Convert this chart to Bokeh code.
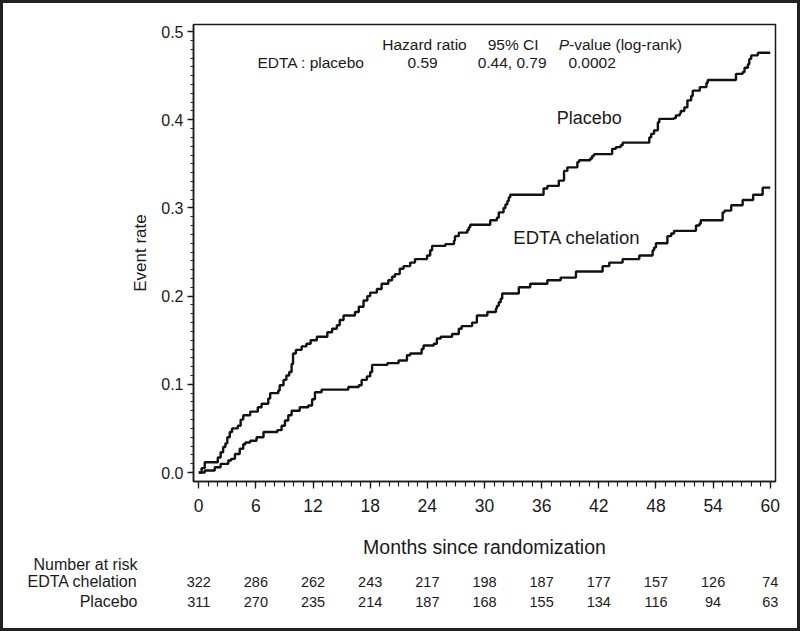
from bokeh.plotting import figure
from bokeh.layouts import column
from bokeh.models import Range1d, FixedTicker, Label, ColumnDataSource, NumeralTickFormatter
from bokeh.core.properties import value
from bokeh.embed import file_html
from bokeh.resources import INLINE

# ---- data ----
placebo_month = [0, 0.3, 0.63, 2.0, 2.3, 2.56, 2.8, 3.0, 3.26, 3.5, 4.1, 4.4, 4.67, 5.4, 6.2, 6.6, 7.3, 7.5,
                 8.35, 8.5, 8.9, 9.2, 9.5, 9.75, 9.9, 10.2, 10.8, 11.3, 11.75, 12.4, 13.5, 14.0, 14.5, 14.8,
                 15.2, 16.4, 16.8, 17.3, 17.7, 18.0, 18.7, 19.2, 19.9, 20.3, 20.6, 21.1, 21.5, 22.2, 22.7,
                 23.97, 24.3, 24.5, 25.9, 26.8, 26.9, 27.3, 28.2, 28.35, 28.5, 30.6, 31.3, 31.5, 32.0, 32.2,
                 32.4, 32.55, 32.7, 36.2, 36.6, 37.8, 38.35, 38.7, 39.75, 39.93, 41.1, 41.3, 41.5, 43.4, 43.8,
                 44.3, 44.5, 47.3, 47.5, 47.8, 48.2, 48.35, 49.9, 50.1, 50.5, 50.6, 50.98, 51.3, 51.7, 51.86,
                 52.6, 53.3, 53.44, 56.4, 57.1, 57.3, 57.65, 57.8, 58.0, 58.7, 60.0]
placebo_rate = [0.0, 0.005, 0.0117, 0.017, 0.023, 0.029, 0.033, 0.040, 0.046, 0.050, 0.053, 0.060, 0.065, 0.069,
                0.074, 0.078, 0.084, 0.090, 0.093, 0.099, 0.105, 0.110, 0.114, 0.123, 0.135, 0.139, 0.143,
                0.146, 0.150, 0.154, 0.159, 0.163, 0.167, 0.173, 0.178, 0.182, 0.188, 0.195, 0.200, 0.204,
                0.208, 0.214, 0.218, 0.222, 0.225, 0.231, 0.234, 0.238, 0.242, 0.246, 0.252, 0.257, 0.259,
                0.263, 0.268, 0.272, 0.275, 0.278, 0.281, 0.286, 0.289, 0.295, 0.300, 0.304, 0.308, 0.312,
                0.315, 0.322, 0.325, 0.331, 0.342, 0.346, 0.352, 0.354, 0.356, 0.359, 0.361, 0.367, 0.369,
                0.371, 0.374, 0.380, 0.384, 0.388, 0.397, 0.401, 0.402, 0.405, 0.407, 0.410, 0.414, 0.422,
                0.427, 0.433, 0.437, 0.442, 0.445, 0.452, 0.454, 0.459, 0.463, 0.469, 0.473, 0.476, 0.476]

edta_month = [0, 0.63, 1.68, 2.3, 3.1, 3.4, 3.8, 4.3, 4.67, 4.9, 5.4, 6.07, 6.8, 8.25, 8.7, 9.05, 9.4, 9.75,
              10.6, 11.5, 11.9, 12.2, 12.9, 15.7, 16.8, 17.1, 17.65, 18.0, 18.2, 19.8, 20.98, 21.86, 22.2,
              23.4, 23.6, 24.67, 25.0, 25.4, 26.6, 27.3, 27.6, 28.7, 29.2, 30.3, 31.2, 31.3, 31.5, 31.7,
              31.86, 33.6, 34.8, 36.6, 38.0, 39.6, 42.4, 43.1, 44.5, 46.25, 47.65, 47.8, 48.0, 49.2, 49.6,
              49.9, 52.2, 52.56, 52.7, 55.0, 55.2, 55.9, 57.1, 58.2, 59.2, 60.0]
edta_rate = [0.0, 0.0023, 0.006, 0.0098, 0.0136, 0.0155, 0.021, 0.027, 0.032, 0.034, 0.036, 0.040, 0.046, 0.048,
             0.053, 0.059, 0.065, 0.070, 0.074, 0.076, 0.083, 0.091, 0.094, 0.097, 0.099, 0.105, 0.109, 0.114,
             0.122, 0.124, 0.127, 0.133, 0.135, 0.140, 0.144, 0.146, 0.152, 0.154, 0.157, 0.163, 0.166,
             0.170, 0.178, 0.182, 0.186, 0.189, 0.193, 0.197, 0.203, 0.210, 0.214, 0.218, 0.221, 0.228,
             0.234, 0.238, 0.242, 0.246, 0.252, 0.255, 0.260, 0.268, 0.271, 0.274, 0.280, 0.282, 0.286,
             0.295, 0.297, 0.303, 0.309, 0.315, 0.323, 0.323]

x_ticks = [0, 6, 12, 18, 24, 30, 36, 42, 48, 54, 60]
y_ticks = [0.0, 0.1, 0.2, 0.3, 0.4, 0.5]
risk_months = [0, 6, 12, 18, 24, 30, 36, 42, 48, 54, 60]
risk_edta = [322, 286, 262, 243, 217, 198, 187, 177, 157, 126, 74]
risk_placebo = [311, 270, 235, 214, 187, 168, 155, 134, 116, 94, 63]
row_names = ["EDTA chelation", "Placebo"]

REG = "'Liberation Sans', Arial, Helvetica, sans-serif"
INK = "#1a1a1a"
W = 800
H_TOP = 525
H_BOT = 631 - H_TOP

# ---------------- main plot ----------------
p = figure(width=W, height=H_TOP, output_backend="svg", toolbar_location=None,
           x_range=Range1d(-0.55, 60.55), y_range=Range1d(-0.0102, 0.508),
           min_border_left=193, min_border_right=25, min_border_top=24, min_border_bottom=H_TOP - 481,
           background_fill_color="white", border_fill_color=None)
p.frame_align = False
p.styles = {"background-color": "white",
            "box-shadow": "inset 3px 0 0 0 #222, inset -3px 0 0 0 #222, inset 0 3px 0 0 #222"}
p.grid.visible = False
p.outline_line_color = INK
p.outline_line_width = 1.5

p.xaxis.ticker = FixedTicker(ticks=x_ticks, minor_ticks=list(range(0, 61)))
p.yaxis.ticker = FixedTicker(ticks=y_ticks, minor_ticks=[i / 100 for i in range(51)])
p.yaxis.formatter = NumeralTickFormatter(format="0.0")
for ax in (p.xaxis[0], p.yaxis[0]):
    ax.axis_line_color = INK
    ax.axis_line_width = 1.5
    ax.major_tick_line_color = INK
    ax.minor_tick_line_color = INK
    ax.major_tick_line_width = 1.3
    ax.minor_tick_line_width = 1.1
    ax.major_tick_in = 0
    ax.minor_tick_in = 0
    ax.major_label_text_color = INK
    ax.major_label_text_font = REG

p.xaxis.major_tick_out = 7
p.xaxis.minor_tick_out = 5
p.xaxis.major_label_text_font_size = "17.5px"
p.xaxis.major_label_standoff = 10

p.yaxis.major_tick_out = 6
p.yaxis.minor_tick_out = 3
p.yaxis.major_label_text_font_size = "16px"
p.yaxis.major_label_standoff = 4
p.yaxis.axis_label = "Event rate"
p.yaxis.axis_label_text_font = REG
p.yaxis.axis_label_text_font_size = "17px"
p.yaxis.axis_label_text_font_style = "normal"
p.yaxis.axis_label_text_color = INK
p.yaxis.axis_label_standoff = 8

p.step(placebo_month, placebo_rate, mode="after", line_width=2.4, line_color="#111111")
p.step(edta_month, edta_rate, mode="after", line_width=2.4, line_color="#111111")


def lab(fig, x, y, text, size="15.5px", align="center", style="normal"):
    fig.add_layout(Label(x=x, y=y, text=text, text_font=REG, text_font_size=size,
                         text_align=align, text_baseline="middle", text_color=INK,
                         text_font_style=style))


lab(p, 23.7, 0.4853, "Hazard ratio")
lab(p, 33.0, 0.4853, "95% CI")
lab(p, 38.87, 0.4853, "P", align="right", style="italic")
lab(p, 38.87, 0.4853, "-value (log-rank)", align="left")
lab(p, 11.8, 0.4649, "EDTA : placebo")
lab(p, 23.5, 0.4649, "0.59")
lab(p, 32.9, 0.4649, "0.44, 0.79")
lab(p, 41.3, 0.4649, "0.0002")
lab(p, 41.0, 0.4025, "Placebo", size="18px")
lab(p, 39.7, 0.2664, "EDTA chelation", size="18.5px")

# ---------------- axis title + number at risk (same month scale) ----------------
px_per_month = 582 / 61.1
x0_px = 193 + 0.55 * px_per_month
q = figure(width=W, height=H_BOT, output_backend="svg", toolbar_location=None,
           x_range=Range1d(-x0_px / px_per_month, (W - x0_px) / px_per_month),
           y_range=Range1d(631, H_TOP),  # rows measured downward
           min_border=0, min_border_left=0, min_border_right=0, min_border_top=0, min_border_bottom=0,
           x_axis_location=None, y_axis_location=None,
           background_fill_color=None, border_fill_color=None)
q.frame_align = False
q.styles = {"background-color": "white",
            "box-shadow": "inset 3px 0 0 0 #222, inset -3px 0 0 0 #222, inset 0 -3px 0 0 #222"}
q.grid.visible = False
q.outline_line_color = None

row_title, row_head, row_edta, row_plac = 546, 564, 581, 601
label_right = (137 - x0_px) / px_per_month

q.text(x=[30.0], y=[row_title], text=["Months since randomization"], text_font=value(REG),
       text_font_size="19.5px", text_align="center", text_baseline="middle", text_color=INK)
q.text(x=[label_right] * 3, y=[row_head, row_edta, row_plac], text=["Number at risk"] + row_names,
       text_font=value(REG), text_font_size="16px", text_align="right", text_baseline="middle",
       text_color=INK)
src = ColumnDataSource(dict(
    x=risk_months + risk_months,
    y=[row_edta] * len(risk_months) + [row_plac] * len(risk_months),
    t=[str(v) for v in risk_edta] + [str(v) for v in risk_placebo]))
q.text(x="x", y="y", text="t", source=src, text_font=value(REG), text_font_size="14.5px",
       text_align="center", text_baseline="middle", text_color=INK)

layout = column(p, q, spacing=0)
open("out.html", "w").write(file_html(layout, INLINE))
